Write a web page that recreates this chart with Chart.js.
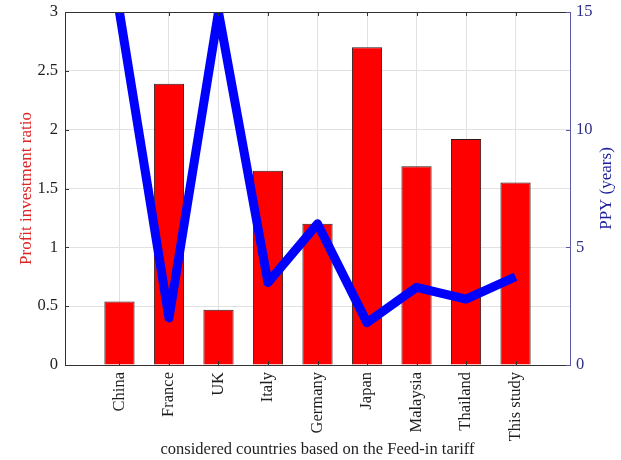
<!DOCTYPE html>
<html>
<head>
<meta charset="utf-8">
<script src="https://cdn.jsdelivr.net/npm/chart.js@4.4.1/dist/chart.umd.min.js"></script>
<style>
  html, body { margin: 0; padding: 0; background: #fff; }
  canvas { display: block; }
</style>
</head>
<body>
<canvas id="fit" width="621" height="460"></canvas>
<script>
// countries compared, bar = profit/investment ratio, line = payback period
const countries = ['China', 'France', 'UK', 'Italy', 'Germany', 'Japan', 'Malaysia', 'Thailand', 'This study'];
const profitRatio = [0.54, 2.39, 0.47, 1.65, 1.20, 2.70, 1.69, 1.92, 1.55];
const ppyYears = [15, 2.0, 15, 3.5, 6.0, 1.8, 3.3, 2.8, 3.75];
const ratioTicks = [0, 0.5, 1, 1.5, 2, 2.5, 3];
const ppyTicks = [0, 5, 10, 15];

const serif = "'Liberation Serif', 'Times New Roman', serif";
Chart.defaults.font.family = serif;
Chart.defaults.font.size = 16.5;

// box frame + short inward tick marks, matlab style
const frame = {
  id: 'frame',
  afterDatasetsDraw(chart) {
    const { ctx, chartArea: a, scales } = chart;
    const t = 4;
    ctx.save();
    ctx.lineWidth = 1;
    ctx.strokeStyle = '#333';
    ctx.beginPath();
    ctx.moveTo(a.left, a.top + 0.5);
    ctx.lineTo(a.right, a.top + 0.5);
    scales.x.ticks.forEach(tk => {
      const px = Math.round(scales.x.getPixelForValue(tk.value)) + 0.5;
      ctx.moveTo(px, a.top); ctx.lineTo(px, a.top + t);
      ctx.moveTo(px, a.bottom); ctx.lineTo(px, a.bottom - t);
    });
    scales.y.ticks.forEach(tk => {
      const py = Math.round(scales.y.getPixelForValue(tk.value)) + 0.5;
      ctx.moveTo(a.left, py); ctx.lineTo(a.left + t, py);
    });
    ctx.stroke();
    ctx.strokeStyle = '#5a5aa8';
    ctx.beginPath();
    scales.y1.ticks.forEach(tk => {
      const py = Math.round(scales.y1.getPixelForValue(tk.value)) + 0.5;
      ctx.moveTo(a.right, py); ctx.lineTo(a.right - t, py);
    });
    ctx.stroke();

    // right axis title reads bottom-to-top like the left one
    ctx.translate(607, (a.top + a.bottom) / 2);
    ctx.rotate(-Math.PI / 2);
    ctx.font = '17px ' + serif;
    ctx.fillStyle = '#1c1c9c';
    ctx.textAlign = 'center';
    ctx.textBaseline = 'middle';
    ctx.fillText('PPY (years)', 0, 0);
    ctx.restore();
  }
};

const whiteBg = {
  id: 'whiteBg',
  beforeDraw(chart) {
    const { ctx, width, height } = chart;
    ctx.save();
    ctx.fillStyle = '#fff';
    ctx.fillRect(0, 0, width, height);
    ctx.restore();
  }
};

// fixed axis widths; drop the label overhang so layout padding sets the top
const fitY = w => s => { s.width = w; s.paddingTop = 0; s.paddingBottom = 0; };

new Chart(document.getElementById('fit'), {
  type: 'bar',
  data: {
    datasets: [{
      type: 'line',
      label: 'PPY',
      data: ppyYears.map((v, i) => ({ x: i + 1, y: v })),
      yAxisID: 'y1',
      borderColor: '#0000ff',
      borderWidth: 9,
      borderJoinStyle: 'round',
      borderCapStyle: 'butt',
      pointRadius: 0,
      tension: 0,
      clip: 0,
      order: 0
    }, {
      label: 'Profit investment ratio',
      data: profitRatio.map((v, i) => ({ x: i + 1, y: v })),
      yAxisID: 'y',
      backgroundColor: '#ff0000',
      borderColor: '#2a1a1a',
      borderWidth: 1,
      barPercentage: 0.61,
      categoryPercentage: 1,
      order: 1
    }]
  },
  options: {
    responsive: false,
    devicePixelRatio: 1,
    animation: false,
    layout: { padding: { top: 12, left: 0, right: 0, bottom: 0 } },
    plugins: { legend: { display: false }, tooltip: { enabled: false } },
    scales: {
      x: {
        type: 'linear',
        min: -0.1,
        max: 10.1,
        offset: false,
        afterBuildTicks: s => { s.ticks = countries.map((_, i) => ({ value: i + 1 })); },
        afterFit: s => { s.height = 95; },
        grid: { offset: false, color: '#e2e2e2', drawTicks: false },
        border: { color: '#333', width: 1 },
        ticks: {
          autoSkip: false,
          minRotation: 90,
          maxRotation: 90,
          padding: 7,
          color: '#1e1e1e',
          callback: v => countries[v - 1]
        },
        title: {
          display: true,
          text: 'considered countries based on the Feed-in tariff',
          color: '#1e1e1e',
          font: { size: 16.5 },
          padding: { top: 0, bottom: 0 }
        }
      },
      y: {
        position: 'left',
        min: 0,
        max: 3,
        afterBuildTicks: s => { s.ticks = ratioTicks.map(v => ({ value: v })); },
        afterFit: fitY(65),
        grid: { color: '#e2e2e2', drawTicks: false },
        border: { color: '#333', width: 1 },
        ticks: { padding: 7, color: '#1e1e1e', callback: v => String(v) },
        title: {
          display: true,
          text: 'Profit investment ratio',
          color: '#dc2424',
          font: { size: 17 },
          padding: { top: 16, bottom: 0 }
        }
      },
      y1: {
        position: 'right',
        min: 0,
        max: 15,
        afterBuildTicks: s => { s.ticks = ppyTicks.map(v => ({ value: v })); },
        afterFit: fitY(51),
        grid: { drawOnChartArea: false, drawTicks: false },
        border: { color: '#5a5aa8', width: 1 },
        ticks: { padding: 6, color: '#2e2e88', callback: v => String(v) }
      }
    }
  },
  plugins: [whiteBg, frame]
});
</script>
</body>
</html>
